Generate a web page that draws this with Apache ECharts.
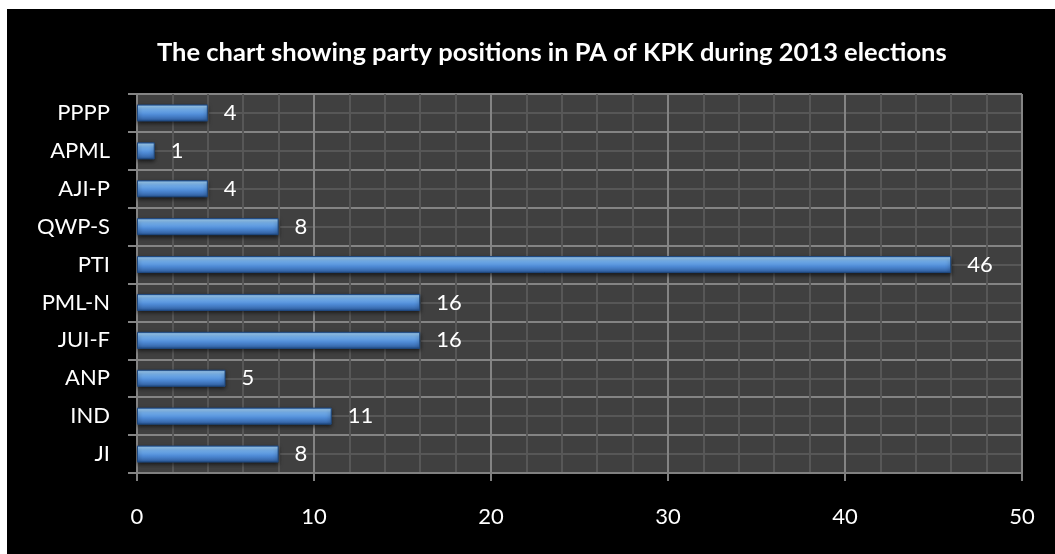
<!DOCTYPE html>
<html>
<head>
<meta charset="utf-8">
<script src="https://cdn.jsdelivr.net/npm/echarts@6/dist/echarts.min.js"></script>
<style>
  html, body { margin: 0; padding: 0; background: #ffffff; }
  #wrap { position: relative; width: 1055px; height: 554px; background: #ffffff; overflow: hidden; }
  #chart { position: absolute; left: 7px; top: 9px; width: 1048px; height: 545px; }
</style>
</head>
<body>
<div id="wrap"><div id="chart"></div></div>
<script>
// Seats per party, listed bottom to top as drawn on the axis
const parties = ['JI', 'IND', 'ANP', 'JUI-F', 'PML-N', 'PTI', 'QWP-S', 'AJI-P', 'APML', 'PPPP'];
const seats = [8, 11, 5, 16, 16, 46, 8, 4, 1, 4];
const seatTicks = [0, 10, 20, 30, 40, 50];

const titleText = 'The chart showing party positions in PA of KPK during 2013 elections';
const font = 'Lato, "Open Sans", "Liberation Sans", sans-serif';

const chart = echarts.init(document.getElementById('chart'));

const barFill = new echarts.graphic.LinearGradient(0, 0, 0, 1, [
  { offset: 0, color: '#4f86cc' },
  { offset: 0.12, color: '#9acdf8' },
  { offset: 0.3, color: '#74b0ee' },
  { offset: 0.6, color: '#4f8bd6' },
  { offset: 0.85, color: '#3a6db2' },
  { offset: 1, color: '#23508c' }
]);

chart.setOption({
  backgroundColor: '#000000',
  animation: false,
  title: {
    text: titleText,
    left: 145,
    top: 26,
    textStyle: { color: '#ffffff', fontFamily: font, fontWeight: 'bold', fontSize: 25.5 }
  },
  grid: {
    left: 130, right: 33, top: 85, bottom: 81,
    show: true, backgroundColor: '#404040', borderWidth: 0
  },
  xAxis: {
    type: 'value',
    min: seatTicks[0],
    max: seatTicks[seatTicks.length - 1],
    interval: seatTicks[1] - seatTicks[0],
    axisLine: { show: true, lineStyle: { color: '#808080', width: 2 } },
    axisTick: { show: true, length: 8, inside: false, lineStyle: { color: '#808080', width: 2 } },
    axisLabel: { color: '#ffffff', fontFamily: font, fontSize: 22, margin: 33 },
    splitLine: { show: true, lineStyle: { color: '#848484', width: 2 } },
    minorTick: { show: false, splitNumber: 5 },
    minorSplitLine: { show: true, lineStyle: { color: '#575757', width: 2 } }
  },
  yAxis: [
    {
      type: 'category',
      data: parties,
      axisLine: { show: true, lineStyle: { color: '#848484', width: 2 } },
      axisTick: { show: true, length: 9, alignWithLabel: false, lineStyle: { color: '#848484', width: 2 } },
      axisLabel: { color: '#ffffff', fontFamily: font, fontSize: 22, margin: 27 },
      splitLine: { show: false },
      z: 3
    },
    {
      // Hidden helper axis that carries the horizontal grid: band edges and band centres
      type: 'value',
      min: 0,
      max: parties.length,
      interval: 1,
      position: 'left',
      axisLine: { show: false },
      axisTick: { show: false },
      axisLabel: { show: false },
      splitLine: { show: true, lineStyle: { color: '#848484', width: 2 } },
      minorTick: { show: false, splitNumber: 2 },
      minorSplitLine: { show: true, lineStyle: { color: '#575757', width: 2 } }
    }
  ],
  series: [{
    type: 'bar',
    yAxisIndex: 0,
    data: seats,
    barWidth: '45%',
    itemStyle: {
      color: barFill,
      borderColor: '#1f4a82',
      borderWidth: 1,
      shadowColor: 'rgba(0,0,0,0.6)',
      shadowBlur: 4,
      shadowOffsetY: 2
    },
    label: {
      show: true,
      position: 'right',
      distance: 16,
      color: '#ffffff',
      fontFamily: font,
      fontSize: 22
    },
    z: 5
  }]
});
</script>
</body>
</html>
